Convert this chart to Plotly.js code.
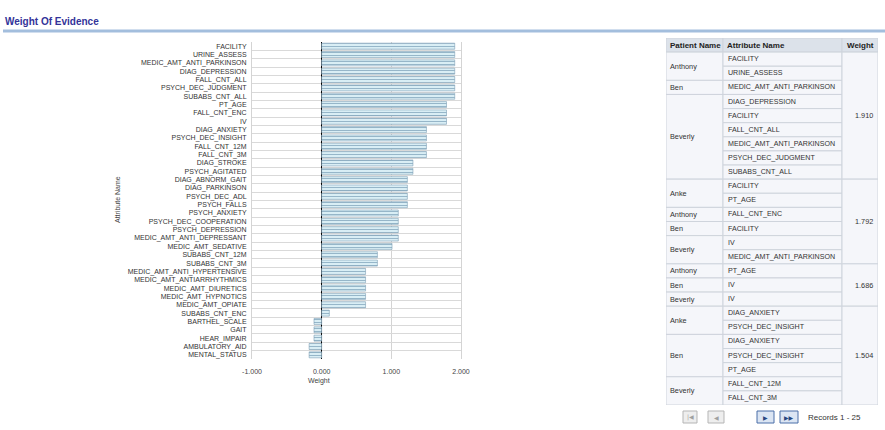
<!DOCTYPE html>
<html><head><meta charset="utf-8">
<script src="https://cdn.plot.ly/plotly-3.0.1.min.js"></script>
<style>html,body{margin:0;padding:0;background:#fff;}#chart{width:885px;height:430px;}</style>
</head><body><div id="chart"></div>
<script>
// ---- bar chart data ----
const attributeNames = ["FACILITY","URINE_ASSESS","MEDIC_AMT_ANTI_PARKINSON","DIAG_DEPRESSION","FALL_CNT_ALL","PSYCH_DEC_JUDGMENT","SUBABS_CNT_ALL","PT_AGE","FALL_CNT_ENC","IV","DIAG_ANXIETY","PSYCH_DEC_INSIGHT","FALL_CNT_12M","FALL_CNT_3M","DIAG_STROKE","PSYCH_AGITATED","DIAG_ABNORM_GAIT","DIAG_PARKINSON","PSYCH_DEC_ADL","PSYCH_FALLS","PSYCH_ANXIETY","PSYCH_DEC_COOPERATION","PSYCH_DEPRESSION","MEDIC_AMT_ANTI_DEPRESSANT","MEDIC_AMT_SEDATIVE","SUBABS_CNT_12M","SUBABS_CNT_3M","MEDIC_AMT_ANTI_HYPERTENSIVE","MEDIC_AMT_ANTIARRHYTHMICS","MEDIC_AMT_DIURETICS","MEDIC_AMT_HYPNOTICS","MEDIC_AMT_OPIATE","SUBABS_CNT_ENC","BARTHEL_SCALE","GAIT","HEAR_IMPAIR","AMBULATORY_AID","MENTAL_STATUS"];
const attributeWeights = [1.910,1.910,1.910,1.910,1.910,1.910,1.910,1.792,1.792,1.792,1.504,1.504,1.504,1.504,1.31,1.31,1.23,1.23,1.23,1.23,1.10,1.10,1.10,1.10,1.01,0.80,0.80,0.63,0.63,0.63,0.63,0.63,0.11,-0.11,-0.11,-0.11,-0.18,-0.18];
const xTickValues = [-1,0,1,2];
const xTickLabels = ["-1.000","0.000","1.000","2.000"];

// ---- table data ----
const tableHeaders = ["Patient Name","Attribute Name","Weight"];
const tablePatients = ["Anthony","Anthony","Ben","Beverly","Beverly","Beverly","Beverly","Beverly","Beverly","Anke","Anke","Anthony","Ben","Beverly","Beverly","Anthony","Ben","Beverly","Anke","Anke","Ben","Ben","Ben","Beverly","Beverly"];
const tableAttributes = ["FACILITY","URINE_ASSESS","MEDIC_AMT_ANTI_PARKINSON","DIAG_DEPRESSION","FACILITY","FALL_CNT_ALL","MEDIC_AMT_ANTI_PARKINSON","PSYCH_DEC_JUDGMENT","SUBABS_CNT_ALL","FACILITY","PT_AGE","FALL_CNT_ENC","FACILITY","IV","MEDIC_AMT_ANTI_PARKINSON","PT_AGE","IV","IV","DIAG_ANXIETY","PSYCH_DEC_INSIGHT","DIAG_ANXIETY","PSYCH_DEC_INSIGHT","PT_AGE","FALL_CNT_12M","FALL_CNT_3M"];
const tableWeights = [1.910,1.910,1.910,1.910,1.910,1.910,1.910,1.910,1.910,1.792,1.792,1.792,1.792,1.792,1.792,1.686,1.686,1.686,1.504,1.504,1.504,1.504,1.504,1.504,1.504];
const recordsLabel = "Records 1 - 25";

// ---- helpers ----
const W = 885, H = 430;
const px = x => x / W;
const py = y => 1 - y / H;
const FONT = "Liberation Sans, Arial, sans-serif";

const shapes = [];
const annotations = [];

// title + underline
annotations.push({xref:"paper",yref:"paper",x:px(3),y:py(22),xanchor:"left",yanchor:"middle",showarrow:false,
  text:"<b>Weight Of Evidence</b>",font:{family:FONT,size:10,color:"#333399"}});
shapes.push({type:"rect",xref:"paper",yref:"paper",x0:px(3),x1:px(885),y0:py(29.5),y1:py(32.5),fillcolor:"#a3bedd",line:{width:0}});

// axis titles for bar chart
annotations.push({xref:"paper",yref:"paper",x:px(118),y:py(200),xanchor:"center",yanchor:"middle",textangle:-90,showarrow:false,
  text:"Attribute Name",font:{family:FONT,size:7,color:"#444"}});
annotations.push({xref:"paper",yref:"paper",x:px(319),y:py(381),xanchor:"center",yanchor:"middle",showarrow:false,
  text:"Weight",font:{family:FONT,size:7,color:"#444"}});

// ---- table built on x2/y2 ----
const colEdges = [0, 57, 176, 212];
const borderColor = "#cfd4dc";
const cellFill = "#f5f6fa";
const nRows = tablePatients.length;
// header
for (let c = 0; c < 3; c++) {
  shapes.push({type:"rect",xref:"x2",yref:"y2",x0:colEdges[c],x1:colEdges[c+1],y0:0,y1:1,
    fillcolor:"#dce2ea",line:{color:borderColor,width:1},layer:"below"});
  annotations.push({xref:"x2",yref:"y2",x:c===2?colEdges[c+1]-2:colEdges[c]+2,y:0.5,
    xanchor:c===2?"right":"left",yanchor:"middle",showarrow:false,text:"<b>"+tableHeaders[c]+"</b>",
    font:{family:FONT,size:8,color:"#222"}});
}
// spans helper
function spans(keyFn) {
  const out = []; let start = 0;
  for (let i = 1; i <= nRows; i++) {
    if (i === nRows || keyFn(i) !== keyFn(start)) { out.push([start, i]); start = i; }
  }
  return out;
}
const patientSpans = spans(i => tablePatients[i] + "|" + tableWeights[i]);
const weightSpans = spans(i => String(tableWeights[i]));
patientSpans.forEach(([a,b]) => {
  shapes.push({type:"rect",xref:"x2",yref:"y2",x0:colEdges[0],x1:colEdges[1],y0:a+1,y1:b+1,
    fillcolor:cellFill,line:{color:borderColor,width:1},layer:"below"});
  annotations.push({xref:"x2",yref:"y2",x:colEdges[0]+2,y:(a+b)/2+1,xanchor:"left",yanchor:"middle",showarrow:false,
    text:tablePatients[a],font:{family:FONT,size:7.3,color:"#333"}});
});
tableAttributes.forEach((t,i) => {
  shapes.push({type:"rect",xref:"x2",yref:"y2",x0:colEdges[1],x1:colEdges[2],y0:i+1,y1:i+2,
    fillcolor:cellFill,line:{color:borderColor,width:1},layer:"below"});
  annotations.push({xref:"x2",yref:"y2",x:colEdges[1]+3,y:i+1.5,xanchor:"left",yanchor:"middle",showarrow:false,
    text:t,font:{family:FONT,size:7.1,color:"#333"}});
});
weightSpans.forEach(([a,b]) => {
  shapes.push({type:"rect",xref:"x2",yref:"y2",x0:colEdges[2],x1:colEdges[3],y0:a+1,y1:b+1,
    fillcolor:cellFill,line:{color:borderColor,width:1},layer:"below"});
  annotations.push({xref:"x2",yref:"y2",x:colEdges[3]-3,y:(a+b)/2+1,xanchor:"right",yanchor:"middle",showarrow:false,
    text:tableWeights[a].toFixed(3),font:{family:FONT,size:7.3,color:"#333"}});
});

// pagination buttons
function button(x0,x1,glyph,active){
  shapes.push({type:"rect",xref:"paper",yref:"paper",x0:px(x0),x1:px(x1),y0:py(423),y1:py(411),
    fillcolor:active?"#dbe5f3":"#eeeeee",line:{color:active?"#4a6fa8":"#b5b5b5",width:1}});
  annotations.push({xref:"paper",yref:"paper",x:px((x0+x1)/2),y:py(417),xanchor:"center",yanchor:"middle",showarrow:false,text:glyph,
    font:{family:"DejaVu Sans",size:6,color:active?"#27477f":"#a0a0a0"}});
}
button(683,697,"|◀",false);
button(708,724,"◀",false);
button(757,774,"▶",true);
button(780,798,"▶▶",true);
annotations.push({xref:"paper",yref:"paper",x:px(806),y:py(417),xanchor:"left",yanchor:"middle",showarrow:false,
  text:recordsLabel,font:{family:FONT,size:8,color:"#333"}});

const data = [
  {type:"bar",orientation:"h",y:attributeNames,x:attributeWeights,xaxis:"x",yaxis:"y",
   marker:{color:"#cfe6ef",line:{color:"#7d9fb5",width:0.6},
     pattern:{shape:"-",fgcolor:"#8fb0c4",bgcolor:"#d9eef5",size:3,solidity:0.3}},
   hoverinfo:"x+y"},
  {type:"scatter",x:[],y:[],xaxis:"x2",yaxis:"y2",showlegend:false}
];

const layout = {
  width:W,height:H,margin:{l:0,r:0,t:0,b:0},
  paper_bgcolor:"#fff",plot_bgcolor:"#fff",showlegend:false,bargap:0.28,
  font:{family:FONT,size:7,color:"#333"},
  xaxis:{domain:[px(252),px(461)],range:[-1,2],tickvals:xTickValues,ticktext:xTickLabels,
    showgrid:true,gridcolor:"#d4d4d4",gridwidth:1,zeroline:true,zerolinecolor:"#000",zerolinewidth:1,
    showline:false,ticks:"",ticklabelstandoff:7,tickfont:{family:FONT,size:7,color:"#444"},anchor:"y",fixedrange:true},
  yaxis:{domain:[py(359),py(42)],type:"category",categoryorder:"array",categoryarray:attributeNames,
    autorange:"reversed",tickson:"boundaries",showgrid:true,gridcolor:"#d9d9d9",gridwidth:1,
    showline:true,mirror:true,linecolor:"#d4d4d4",ticks:"",ticklen:0,ticklabelstandoff:3,
    tickfont:{family:FONT,size:7,color:"#333"},anchor:"x",fixedrange:true,automargin:false},
  xaxis2:{domain:[px(666),px(878)],range:[0,212],visible:false,anchor:"y2",fixedrange:true},
  yaxis2:{domain:[py(405),py(38)],range:[26,0],visible:false,anchor:"x2",fixedrange:true},
  shapes:shapes,annotations:annotations
};

Plotly.newPlot("chart",data,layout,{displayModeBar:false,staticPlot:true});
</script></body></html>
